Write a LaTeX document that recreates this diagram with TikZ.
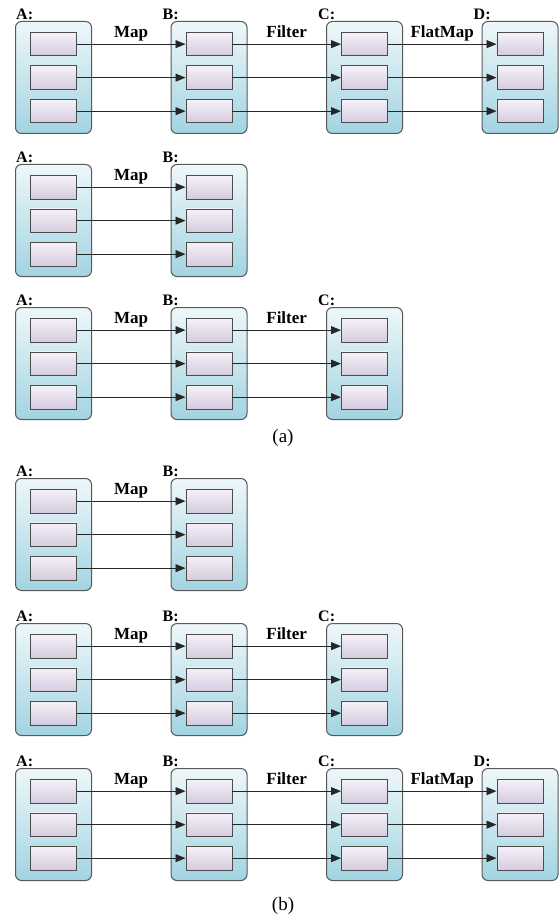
\documentclass[tikz,border=0pt]{standalone}
\usepackage{fontspec}
\setmainfont{Liberation Serif}
\usetikzlibrary{arrows.meta,positioning,calc}
\definecolor{stageedge}{RGB}{88,88,88}
\definecolor{stagetop}{RGB}{238,247,250}
\definecolor{stagebot}{RGB}{162,212,225}
\definecolor{itemtop}{RGB}{245,241,248}
\definecolor{itembot}{RGB}{213,203,223}

\tikzset{
  stage/.style={draw=stageedge, line width=1pt, rounded corners=6pt, top color=stagetop, bottom color=stagebot,
    minimum width=76pt, minimum height=112pt, inner sep=0pt, anchor=north west},
  item/.style={draw=black!70, line width=0.8pt, top color=itemtop, bottom color=itembot,
    minimum width=46pt, minimum height=23.5pt, inner sep=0pt, anchor=north west},
  flow/.style={-{Triangle[length=10pt,width=8pt]}, line width=0.8pt, black!85},
  stagename/.style={font=\fontsize{16}{17}\selectfont\bfseries, anchor=south west, inner sep=0pt},
  opname/.style={font=\fontsize{17}{18}\selectfont\bfseries, anchor=base, inner sep=0pt},
  caption/.style={font=\fontsize{19}{20}\selectfont, inner sep=0pt}
}

\begin{document}
\begin{tikzpicture}[x=1pt,y=-1pt]
\useasboundingbox (0,0) rectangle (558,920);
% one row per pipeline: row / top / number of stages
\foreach \r/\y/\n in {1/21/4,2/164/2,3/307/3,4/478/2,5/623/3,6/768/4}{
  \foreach \s/\name in {1/A,2/B,3/C,4/D}{
    \ifnum\s>\n\else
      \node[stage] (c\r\s) at ({15+155.5*(\s-1)},\y) {};
      \foreach \k in {1,2,3}
        \node[item] (b\r\s\k) at ({30+155.5*(\s-1)},{\y+11+33.5*(\k-1)}) {};
      \pgfmathsetmacro\dx{\s==1 ? 1 : -8}
      \node[stagename] (l\r\s) at ($(c\r\s.north west)+(\dx,-1)$) {\name:};
    \fi
  }
  \foreach \s/\op in {1/Map,2/Filter,3/FlatMap}{
    \ifnum\s<\n
      \pgfmathtruncatemacro\nx{\s+1}
      \foreach \k in {1,2,3}
        \draw[flow] (b\r\s\k.east) -- (b\r\nx\k.west);
      \node[opname] (op\r\s) at ($(b\r\s1.east)!0.5!(b\r\nx1.west)+(0,-7)$) {\op};
    \fi
  }
}
\node[caption] (capa) at (283,438) {(a)};
\node[caption] (capb) at (283,906) {(b)};
\end{tikzpicture}
\end{document}
